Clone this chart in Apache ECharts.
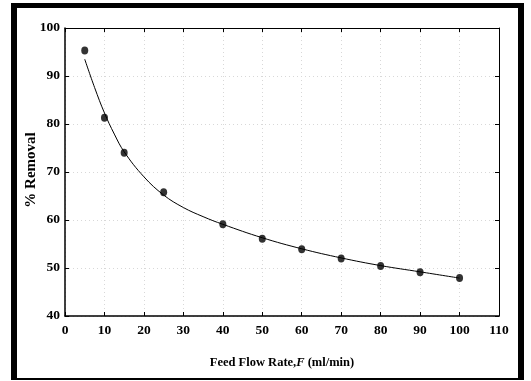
<!DOCTYPE html>
<html>
<head>
<meta charset="utf-8">
<style>
html,body{margin:0;padding:0;background:#fff;}
#chart{width:531px;height:381px;}
</style>
<script src="https://cdn.jsdelivr.net/npm/echarts@6/dist/echarts.min.js"></script>
</head>
<body>
<div id="chart"></div>
<script>
// Measured data points
var flowRates = [5, 10, 15, 25, 40, 50, 60, 70, 80, 90, 100];
var removal   = [95.3, 81.3, 74.0, 65.8, 59.1, 56.1, 53.9, 52.0, 50.4, 49.1, 47.9];

// Fitted curve
var curveX = [5, 7.5, 10, 12.5, 15, 20, 25, 30, 35, 40, 50, 60, 70, 80, 90, 100];
var curveY = [93.5, 87.6, 82.3, 77.9, 74.2, 69.0, 65.2, 62.6, 60.7, 59.1, 56.3, 54.0, 52.1, 50.5, 49.2, 47.9];

var xTicks = [0, 10, 20, 30, 40, 50, 60, 70, 80, 90, 100, 110];
var yTicks = [40, 50, 60, 70, 80, 90, 100];

var xTitle = 'Feed Flow Rate,';
var xTitleVar = 'F';
var xTitleUnit = ' (ml/min)';
var yTitle = '% Removal';

var FONT = '"Liberation Serif", "Times New Roman", serif';

var scatterData = flowRates.map(function (x, i) { return [x, removal[i]]; });
var curveData = curveX.map(function (x, i) { return [x, curveY[i]]; });

var chart = echarts.init(document.getElementById('chart'), null, {renderer: 'canvas'});

var labelStyle = {color: '#000', fontFamily: FONT, fontWeight: 'bold', fontSize: 13.5};

var option = {
  backgroundColor: '#fff',
  animation: false,
  grid: {left: 65, right: 32, top: 28, bottom: 65, containLabel: false},
  xAxis: [{
    type: 'value', min: xTicks[0], max: xTicks[xTicks.length - 1], interval: 10,
    position: 'bottom',
    axisLine: {show: true, onZero: false, lineStyle: {color: '#000', width: 1.5}},
    axisTick: {show: true, inside: true, length: 4, lineStyle: {color: '#000', width: 1}},
    splitLine: {show: true, lineStyle: {color: '#d8d8d8', type: [1, 3], width: 1}},
    axisLabel: Object.assign({margin: 8, showMinLabel: true, showMaxLabel: true}, labelStyle),
    name: '{a|' + xTitle + '}{b|' + xTitleVar + '}{a|' + xTitleUnit + '}',
    nameLocation: 'middle', nameGap: 40,
    nameTextStyle: {
      rich: {
        a: {fontFamily: FONT, fontWeight: 'bold', fontSize: 12.5, color: '#000'},
        b: {fontFamily: FONT, fontWeight: 'bold', fontStyle: 'italic', fontSize: 12.5, color: '#000'}
      }
    }
  }, {
    type: 'value', min: xTicks[0], max: xTicks[xTicks.length - 1], interval: 10,
    position: 'top',
    axisLine: {show: true, onZero: false, lineStyle: {color: '#000', width: 1}},
    axisTick: {show: true, inside: true, length: 4, lineStyle: {color: '#000', width: 1}},
    splitLine: {show: false},
    axisLabel: {show: false}
  }],
  yAxis: [{
    type: 'value', min: yTicks[0], max: yTicks[yTicks.length - 1], interval: 10,
    position: 'left',
    axisLine: {show: true, onZero: false, lineStyle: {color: '#000', width: 1.5}},
    axisTick: {show: true, inside: true, length: 4, lineStyle: {color: '#000', width: 1}},
    splitLine: {show: true, lineStyle: {color: '#d8d8d8', type: [1, 3], width: 1}},
    axisLabel: Object.assign({margin: 5}, labelStyle)
  }, {
    type: 'value', min: yTicks[0], max: yTicks[yTicks.length - 1], interval: 10,
    position: 'right',
    axisLine: {show: true, onZero: false, lineStyle: {color: '#000', width: 1}},
    axisTick: {show: true, inside: true, length: 4, lineStyle: {color: '#000', width: 1}},
    splitLine: {show: false},
    axisLabel: {show: false}
  }],
  series: [{
    type: 'line',
    xAxisIndex: 0, yAxisIndex: 0,
    data: curveData,
    smooth: 0.4,
    showSymbol: false,
    symbol: 'none',
    lineStyle: {color: '#000', width: 1},
    z: 2
  }, {
    type: 'scatter',
    xAxisIndex: 0, yAxisIndex: 0,
    data: scatterData,
    symbol: 'circle',
    symbolSize: [7, 8],
    itemStyle: {color: '#000'},
    z: 3
  }],
  graphic: [
    {type: 'rect', shape: {x: 11, y: 3, width: 6, height: 377}, style: {fill: '#000'}, z: 100},
    {type: 'rect', shape: {x: 11, y: 3, width: 513, height: 5}, style: {fill: '#000'}, z: 100},
    {type: 'rect', shape: {x: 518, y: 3, width: 6, height: 377}, style: {fill: '#000'}, z: 100},
    {type: 'rect', shape: {x: 11, y: 378, width: 513, height: 2}, style: {fill: '#000'}, z: 100},
    {type: 'text', x: 31, y: 170, rotation: Math.PI / 2,
      style: {text: yTitle, fill: '#000', font: 'bold 15px ' + FONT, align: 'center', verticalAlign: 'middle'},
      z: 100}
  ]
};
chart.setOption(option);
</script>
</body>
</html>
